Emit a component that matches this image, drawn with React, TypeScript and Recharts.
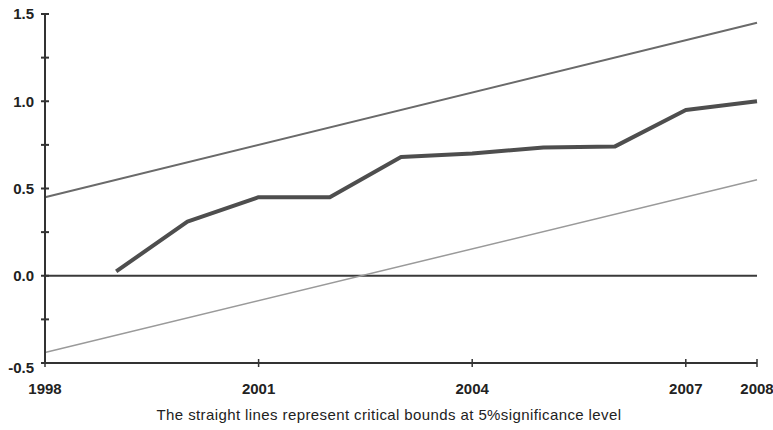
import { Line, LineChart, ReferenceLine, XAxis, YAxis } from 'recharts'

const years = [1998, 1999, 2000, 2001, 2002, 2003, 2004, 2005, 2006, 2007, 2008]
const cusum = [null, 0.025, 0.31, 0.45, 0.45, 0.68, 0.7, 0.735, 0.74, 0.95, 1.0]
const upperBound = [0.45, null, null, null, null, null, null, null, null, null, 1.45]
const lowerBound = [-0.44, null, null, null, null, null, null, null, null, null, 0.55]

const xTicks = [1998, 2001, 2004, 2007, 2008]
const yTicks = [-0.5, -0.25, 0, 0.25, 0.5, 0.75, 1.0, 1.25, 1.5]
const caption = 'The straight lines represent critical bounds at 5%significance level'

const data = years.map((year, i) => ({
  year,
  cusum: cusum[i],
  upper: upperBound[i],
  lower: lowerBound[i],
}))

const FONT = '"Liberation Sans", Arial, sans-serif'
const AXIS = '#333'

function YTick({ x, y, payload }: any) {
  const v = payload.value as number
  const labelled = Math.abs(v * 2 - Math.round(v * 2)) < 1e-6
  return (
    <g>
      <line x1={x - 4} x2={x + 4} y1={y} y2={y} stroke={AXIS} strokeWidth={2} />
      {labelled && (
        <text
          x={x - 11}
          y={y + (v < 0 ? 5 : 0)}
          dy="0.35em"
          textAnchor="end"
          fontSize={15}
          fontWeight="bold"
          fill="#222"
          fontFamily={FONT}
        >
          {v.toFixed(1)}
        </text>
      )}
    </g>
  )
}

function XTick({ x, y, payload }: any) {
  return (
    <g>
      <line x1={x} x2={x} y1={y - 4} y2={y + 4} stroke={AXIS} strokeWidth={1.5} />
      <text
        x={x}
        y={y + 31}
        textAnchor="middle"
        fontSize={15}
        fontWeight="bold"
        fill="#222"
        fontFamily={FONT}
      >
        {payload.value}
      </text>
    </g>
  )
}

function App() {
  return (
    <div style={{ position: 'absolute', left: 0, top: 0, width: 773, height: 430, background: '#fff' }}>
      <LineChart
        width={773}
        height={400}
        data={data}
        margin={{ top: 14, right: 16, left: 0, bottom: 0 }}
      >
        <XAxis
          dataKey="year"
          type="number"
          domain={[1998, 2008]}
          ticks={xTicks}
          tick={<XTick />}
          tickLine={false}
          tickSize={0}
          tickMargin={0}
          height={37}
          axisLine={{ stroke: AXIS, strokeWidth: 2 }}
          interval={0}
        />
        <YAxis
          type="number"
          domain={[-0.5, 1.5]}
          ticks={yTicks}
          tick={<YTick />}
          tickLine={false}
          tickSize={0}
          tickMargin={0}
          width={45}
          axisLine={{ stroke: AXIS, strokeWidth: 2 }}
          interval={0}
        />
        <ReferenceLine y={0} stroke="#3a3a3a" strokeWidth={2} />
        <Line
          dataKey="upper"
          stroke="#6a6a6a"
          strokeWidth={2}
          dot={false}
          connectNulls
          isAnimationActive={false}
        />
        <Line
          dataKey="lower"
          stroke="#9a9a9a"
          strokeWidth={1.5}
          dot={false}
          connectNulls
          isAnimationActive={false}
        />
        <Line
          dataKey="cusum"
          stroke="#4e4e4e"
          strokeWidth={4}
          dot={false}
          strokeLinejoin="round"
          isAnimationActive={false}
        />
      </LineChart>
      <div
        style={{
          position: 'absolute',
          left: 0,
          top: 406,
          width: 773,
          paddingLeft: 5,
          boxSizing: 'border-box',
          textAlign: 'center',
          fontFamily: FONT,
          fontSize: 15,
          letterSpacing: 0.4,
          color: '#222',
        }}
      >
        {caption}
      </div>
    </div>
  )
}

export default App
